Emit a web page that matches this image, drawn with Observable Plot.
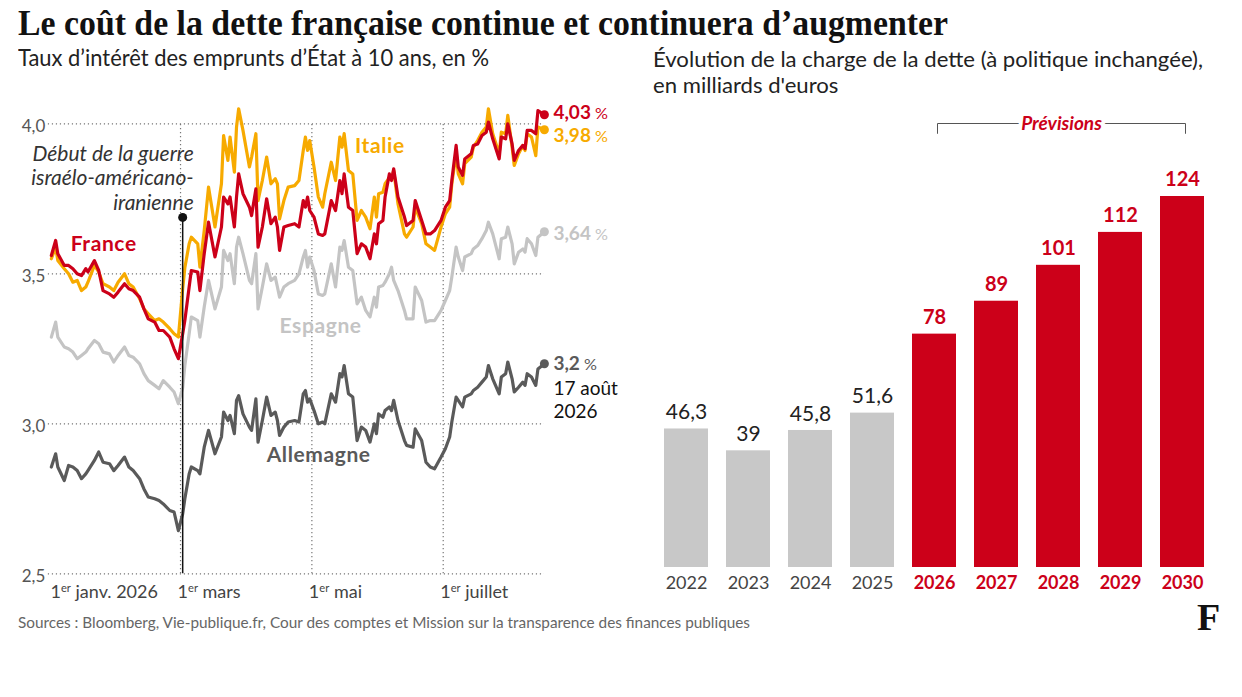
<!DOCTYPE html>
<html><head><meta charset="utf-8">
<script src="https://cdn.jsdelivr.net/npm/d3@7"></script>
<script src="https://cdn.jsdelivr.net/npm/@observablehq/plot@0.6"></script>
<style>
html,body{margin:0;padding:0;background:#fff;}
#wrap{position:relative;width:1242px;height:697px;overflow:hidden;background:#fff;font-family:Lato,"Open Sans",sans-serif;}
.abs{position:absolute;white-space:nowrap;}
#title{left:18px;top:5px;font-family:"Liberation Serif",serif;font-weight:700;font-size:36px;line-height:36px;color:#111;}
#subL{left:18px;top:45px;font-size:23px;line-height:24px;color:#222;}
#subR{left:653px;top:46px;font-size:21px;line-height:25.5px;color:#222;}
#subR div{white-space:nowrap;}
#src{left:18px;top:614px;font-size:15px;line-height:16px;color:#666;}
#logo{left:1197px;top:598px;font-family:"Liberation Serif",serif;font-weight:700;font-size:38px;line-height:38px;color:#111;}
</style></head>
<body>
<div id="wrap">
  <div id="title" class="abs">Le coût de la dette française continue et continuera d’augmenter</div>
  <div id="subL" class="abs">Taux d’intérêt des emprunts d’État à 10 ans, en %</div>
  <div id="subR" class="abs"><div id="subR1">Évolution de la charge de la dette (à politique inchangée),</div><div id="subR2">en milliards d'euros</div></div>
  <div id="left" class="abs" style="left:0;top:90px;width:640px;"></div>
  <div id="right" class="abs" style="left:640px;top:90px;width:602px;"></div>
  <div id="src" class="abs">Sources : Bloomberg, Vie-publique.fr, Cour des comptes et Mission sur la transparence des finances publiques</div>
  <div id="logo" class="abs">F</div>
</div>
<script>
// ---------- DATA ----------
const dates = ["2025-12-31","2026-01-02","2026-01-03","2026-01-06","2026-01-08","2026-01-10","2026-01-12","2026-01-14","2026-01-16","2026-01-17",
"2026-01-20","2026-01-22","2026-01-24","2026-01-27","2026-01-29","2026-01-31","2026-02-03","2026-02-05","2026-02-07","2026-02-10",
"2026-02-12","2026-02-14","2026-02-17","2026-02-19","2026-02-21","2026-02-24","2026-02-26","2026-02-28","2026-03-02","2026-03-03",
"2026-03-05","2026-03-06","2026-03-09","2026-03-10","2026-03-12","2026-03-14","2026-03-17","2026-03-20","2026-03-21","2026-03-23",
"2026-03-24","2026-03-26","2026-03-27","2026-03-28","2026-03-30","2026-04-02","2026-04-03","2026-04-05","2026-04-06","2026-04-08",
"2026-04-10","2026-04-12","2026-04-14","2026-04-15","2026-04-16","2026-04-18","2026-04-20","2026-04-23","2026-04-25","2026-04-27",
"2026-04-28","2026-04-29","2026-04-30","2026-05-02","2026-05-04","2026-05-06","2026-05-07","2026-05-10","2026-05-12","2026-05-14",
"2026-05-15","2026-05-16","2026-05-18","2026-05-20","2026-05-22","2026-05-24","2026-05-26","2026-05-28","2026-05-30","2026-05-31",
"2026-06-01","2026-06-03","2026-06-04","2026-06-06","2026-06-07","2026-06-08","2026-06-10","2026-06-13","2026-06-14","2026-06-17",
"2026-06-18","2026-06-21","2026-06-23","2026-06-25","2026-06-27","2026-06-30","2026-07-02","2026-07-04","2026-07-05","2026-07-07",
"2026-07-08","2026-07-10","2026-07-11","2026-07-14","2026-07-15","2026-07-17","2026-07-19","2026-07-21","2026-07-22","2026-07-24",
"2026-07-27","2026-07-28","2026-07-30","2026-07-31","2026-08-02","2026-08-03","2026-08-05","2026-08-07","2026-08-08","2026-08-09",
"2026-08-11","2026-08-13","2026-08-14","2026-08-17"];

const france = [3.561,3.611,3.567,3.528,3.528,3.517,3.500,3.494,3.517,3.506,
3.544,3.511,3.444,3.433,3.422,3.439,3.467,3.450,3.444,3.422,
3.383,3.350,3.339,3.311,3.311,3.289,3.250,3.217,3.300,3.344,
3.456,3.511,3.506,3.444,3.567,3.672,3.556,3.656,3.756,3.733,
3.756,3.656,3.756,3.833,3.767,3.722,3.694,3.783,3.589,3.656,
3.750,3.667,3.689,3.656,3.578,3.656,3.661,3.667,3.656,3.744,
3.722,3.756,3.711,3.689,3.633,3.628,3.633,3.744,3.711,3.811,
3.767,3.833,3.722,3.711,3.567,3.600,3.589,3.550,3.633,3.600,
3.667,3.678,3.756,3.833,3.811,3.850,3.756,3.689,3.661,3.678,
3.744,3.678,3.633,3.633,3.644,3.678,3.722,3.744,3.811,3.928,
3.856,3.828,3.883,3.900,3.928,3.933,3.961,3.972,4.006,3.950,
3.883,3.956,3.950,4.000,3.933,3.878,3.911,3.928,3.917,3.978,
3.978,3.967,4.044,4.03];

const italie = [3.550,3.589,3.544,3.517,3.500,3.472,3.478,3.444,3.456,3.472,
3.528,3.506,3.467,3.456,3.444,3.472,3.500,3.467,3.456,3.417,
3.383,3.367,3.344,3.350,3.339,3.317,3.300,3.289,3.450,3.520,
3.600,3.622,3.600,3.522,3.644,3.789,3.656,3.800,3.961,3.878,
3.956,3.839,3.989,4.050,3.978,3.856,3.889,3.967,3.744,3.811,
3.889,3.800,3.817,3.800,3.683,3.744,3.789,3.794,3.811,3.911,
3.956,3.911,3.944,3.856,3.756,3.722,3.767,3.872,3.811,3.956,
3.922,3.967,3.844,3.833,3.678,3.711,3.689,3.650,3.756,3.689,
3.767,3.772,3.800,3.820,3.817,3.844,3.733,3.633,3.622,3.656,
3.722,3.667,3.600,3.589,3.578,3.656,3.700,3.722,3.800,3.900,
3.833,3.800,3.867,3.889,3.922,3.944,3.972,3.989,4.050,3.967,
3.900,3.972,3.967,4.028,3.922,3.861,3.900,3.928,3.911,3.967,
3.956,3.894,3.989,3.98];

const espagne = [3.289,3.339,3.289,3.256,3.250,3.239,3.217,3.228,3.239,3.250,
3.278,3.267,3.239,3.233,3.206,3.228,3.256,3.228,3.222,3.200,
3.167,3.144,3.128,3.117,3.144,3.122,3.106,3.067,3.120,3.194,
3.300,3.356,3.344,3.289,3.389,3.478,3.383,3.456,3.578,3.544,
3.567,3.467,3.589,3.622,3.567,3.478,3.467,3.567,3.383,3.456,
3.533,3.478,3.489,3.456,3.422,3.456,3.467,3.478,3.500,3.556,
3.578,3.522,3.556,3.511,3.433,3.428,3.433,3.533,3.456,3.589,
3.578,3.611,3.522,3.511,3.400,3.422,3.378,3.356,3.422,3.389,
3.456,3.461,3.472,3.500,3.522,3.478,3.444,3.378,3.350,3.350,
3.456,3.411,3.339,3.344,3.344,3.378,3.411,3.444,3.489,3.589,
3.556,3.511,3.556,3.567,3.583,3.594,3.617,3.644,3.672,3.633,
3.550,3.617,3.622,3.656,3.600,3.533,3.572,3.583,3.572,3.617,
3.600,3.561,3.622,3.64];

const allemagne = [2.856,2.900,2.856,2.811,2.861,2.856,2.844,2.817,2.833,2.844,
2.878,2.906,2.872,2.867,2.844,2.861,2.889,2.856,2.844,2.817,
2.783,2.756,2.750,2.744,2.733,2.711,2.706,2.644,2.700,2.750,
2.833,2.856,2.844,2.833,2.922,2.978,2.900,2.956,3.039,3.011,
3.028,2.967,3.078,3.094,3.033,2.989,2.978,3.083,2.939,3.011,
3.089,3.028,3.039,3.011,2.961,2.989,3.006,3.011,3.006,3.100,
3.111,3.072,3.083,3.044,3.000,3.006,3.000,3.100,3.072,3.167,
3.156,3.194,3.100,3.089,2.944,2.989,2.978,2.939,3.000,2.967,
3.033,3.022,3.044,3.056,3.044,3.078,3.011,2.944,2.928,2.922,
2.983,2.944,2.872,2.856,2.850,2.889,2.917,2.956,3.006,3.089,
3.078,3.056,3.089,3.100,3.111,3.122,3.139,3.156,3.194,3.150,
3.100,3.156,3.167,3.206,3.150,3.106,3.122,3.139,3.128,3.167,
3.156,3.128,3.183,3.20];

const countries = ["Allemagne","Espagne","Italie","France"];
const yTicks = [2.5, 3.0, 3.5, 4.0];
const xTicks = ["2026-01-01","2026-03-01","2026-05-01","2026-07-01"];
const xTickLabels = ["1er janv. 2026","1er mars","1er mai","1er juillet"];
const xGrid = ["2026-03-01","2026-05-01","2026-07-01"];
const warDate = "2026-03-02";
const warLabel = "Début de la guerre\nisraélo-américano-\niranienne";
const endDateLabel = "17 août\n2026";

const years = ["2022","2023","2024","2025","2026","2027","2028","2029","2030"];
const charge = [46.3, 39, 45.8, 51.6, 78, 89, 101, 112, 124];
const firstForecast = "2026";

// ---------- STYLE ----------
const FONT = "Lato, 'Open Sans', sans-serif";
const RED = "#cc0019", ORANGE = "#f7aa00", LGRAY = "#c4c4c4", DGRAY = "#5a5a5a", BARGRAY = "#c8c8c8";
const colorOf = {Allemagne: DGRAY, Espagne: LGRAY, Italie: ORANGE, France: RED};
const fr = d3.formatLocale({decimal: ",", thousands: "\u00a0", grouping: [3], currency: ["", "\u00a0€"]});
const fmt1 = fr.format(".1f");
const fmtR = fr.format(".3~r");
const parse = d3.utcParse("%Y-%m-%d");

// ---------- LEFT CHART ----------
const valuesBy = {Allemagne: allemagne, Espagne: espagne, Italie: italie, France: france};
const rows = countries.flatMap(c => dates.map((d, i) => ({date: parse(d), value: valuesBy[c][i], country: c})));
const last = countries.map(c => rows.filter(r => r.country === c).at(-1));
const endLabelY = {France: 4.035, Italie: 3.961, Espagne: 3.634, Allemagne: 3.198};
const seriesLabels = [
  {country: "France", date: parse("2026-01-09"), value: 3.60},
  {country: "Italie", date: parse("2026-05-21"), value: 3.924},
  {country: "Espagne", date: parse("2026-04-16"), value: 3.324},
  {country: "Allemagne", date: parse("2026-04-10"), value: 2.894}
];
const warTop = 3.688;
const xLabelMap = new Map(xTicks.map((d, i) => [+parse(d), xTickLabels[i]]));
const lastDate = parse(dates[dates.length - 1]);

const left = Plot.plot({
  width: 640, height: 520,
  marginLeft: 50.85, marginRight: 96.1, marginTop: 33.3, marginBottom: 36.7,
  x: {type: "utc", domain: [parse(dates[0]), lastDate], axis: null},
  y: {domain: [2.5, 4.0], axis: null},
  color: {domain: countries, range: countries.map(c => colorOf[c])},
  style: {fontFamily: FONT, background: "transparent", overflow: "visible"},
  marks: [
    Plot.ruleY(yTicks, {stroke: "#777", strokeWidth: 1.2, strokeDasharray: "1.2,2.8", insetLeft: -3}),
    Plot.ruleX(xGrid.map(parse), {x: d => d, y1: 2.5, y2: 4.0, stroke: "#777", strokeWidth: 1.2, strokeDasharray: "1.2,2.8"}),
    Plot.text(yTicks, {y: d => d, frameAnchor: "left", text: d => fmt1(d), textAnchor: "end", dx: -6, dy: 3, fontSize: 17, fill: "#555"}),
    Plot.text(xTicks.map(parse), {x: d => d, y: 2.5, text: d => xLabelMap.get(+d), textAnchor: "start", dx: -3, dy: 18, fontSize: 18, fill: "#444"}),
    Plot.line(rows, {x: "date", y: "value", z: "country", stroke: "country", strokeWidth: 3.2, strokeLinejoin: "round", strokeLinecap: "round"}),
    Plot.ruleX([parse(warDate)], {x: d => d, y1: 2.5, y2: warTop, stroke: "#111", strokeWidth: 1.5}),
    Plot.dot([parse(warDate)], {x: d => d, y: warTop, r: 4.5, fill: "#111"}),
    Plot.text([warLabel], {x: parse(warDate), y: 3.821, text: d => d, textAnchor: "end", dx: 11, lineHeight: 1.16, fontStyle: "italic", fontSize: 21, fill: "#333"}),
    Plot.text(seriesLabels, {x: "date", y: "value", text: "country", fill: "country", textAnchor: "start", fontWeight: 700, fontSize: 21}),
    Plot.dot(last, {x: "date", y: "value", fill: "country", r: 4.5}),
    Plot.text(last, {x: "date", y: d => endLabelY[d.country], text: d => fmtR(d.value) + " %", fill: "country", textAnchor: "start", dx: 9, fontWeight: 700, fontSize: 19}),
    Plot.text([endDateLabel], {x: lastDate, y: 3.083, text: d => d, textAnchor: "start", dx: 9, lineHeight: 1.22, fontSize: 19, fill: "#111"})
  ]
});
document.getElementById("left").appendChild(left);

// superscript "er" and lighter "%" (found by their text)
d3.select(left).selectAll("text").each(function() {
  if (this.querySelector("tspan")) return;
  const t = this.textContent;
  const s = d3.select(this);
  if (t.startsWith("1er")) {
    const rest = t.slice(3);
    s.text("1");
    s.append("tspan").attr("dy", -6).attr("font-size", "0.62em").text("er");
    s.append("tspan").attr("dy", 6).text(rest);
  } else if (/^[\d,]+ %$/.test(t)) {
    s.text(t.slice(0, -2));
    s.append("tspan").attr("font-weight", 400).attr("font-size", "0.85em").text("\u00a0%");
  } else if (countries.includes(t)) {
    s.attr("letter-spacing", "0.6px");
  }
});

// ---------- RIGHT CHART ----------
const bars = years.map((y, i) => ({year: y, value: charge[i], forecast: +y >= +firstForecast}));
const hist = bars.filter(d => !d.forecast), fcst = bars.filter(d => d.forecast);
const yTop = 148.4;
const fcstYears = fcst.map(d => d.year);
const bracket = [
  {x: fcstYears[0], y: yTop - 3.3}, {x: fcstYears[0], y: yTop},
  {x: fcstYears[fcstYears.length - 1], y: yTop}, {x: fcstYears[fcstYears.length - 1], y: yTop - 3.3}
];
const midYear = fcstYears[Math.floor(fcstYears.length / 2)];

const right = Plot.plot({
  width: 602, height: 520,
  marginLeft: 11.5, marginRight: 24.4, marginTop: 33, marginBottom: 43,
  x: {domain: years, paddingInner: 0.285, paddingOuter: 0.1425, axis: null},
  y: {domain: [0, yTop], axis: null},
  style: {fontFamily: FONT, background: "transparent", overflow: "visible"},
  marks: [
    Plot.barY(hist, {x: "year", y: "value", fill: BARGRAY}),
    Plot.barY(fcst, {x: "year", y: "value", fill: RED}),
    Plot.text(hist, {x: "year", y: "value", text: d => fr.format("~r")(d.value), dy: -16.5, fontSize: 21, fill: "#222"}),
    Plot.text(fcst, {x: "year", y: "value", text: d => fr.format("~r")(d.value), dy: -16.5, fontSize: 20, fontWeight: 700, fill: RED}),
    Plot.text(hist, {x: "year", y: 0, text: "year", dy: 16, fontSize: 18, fill: "#444"}),
    Plot.text(fcst, {x: "year", y: 0, text: "year", dy: 16, fontSize: 18, fontWeight: 700, fill: RED}),
    Plot.line(bracket, {x: "x", y: "y", stroke: "#555", strokeWidth: 1, dx: 3}),
    Plot.text([{x: midYear, y: yTop, t: "Prévisions"}], {x: "x", y: "y", text: "t", dx: 3, fontSize: 19, fontWeight: 700, fontStyle: "italic", fill: RED, stroke: "white", strokeWidth: 8, paintOrder: "stroke"})
  ]
});
document.getElementById("right").appendChild(right);

// ---------- fit html text widths ----------
function fitWidth(id, target) {
  const el = document.getElementById(id);
  const w = el.getBoundingClientRect().width;
  if (w > 0) { el.style.transformOrigin = "0 0"; el.style.transform = `scaleX(${target / w})`; }
}
fitWidth("title", 930);
fitWidth("subL", 471);
fitWidth("src", 732);
(function() {
  const el = document.getElementById("subR");
  const l1 = document.getElementById("subR1");
  const w = l1.getBoundingClientRect().width;
  if (w > 0) { el.style.transformOrigin = "0 0"; el.style.transform = `scaleX(${550 / w})`; }
})();
</script>
</body></html>
